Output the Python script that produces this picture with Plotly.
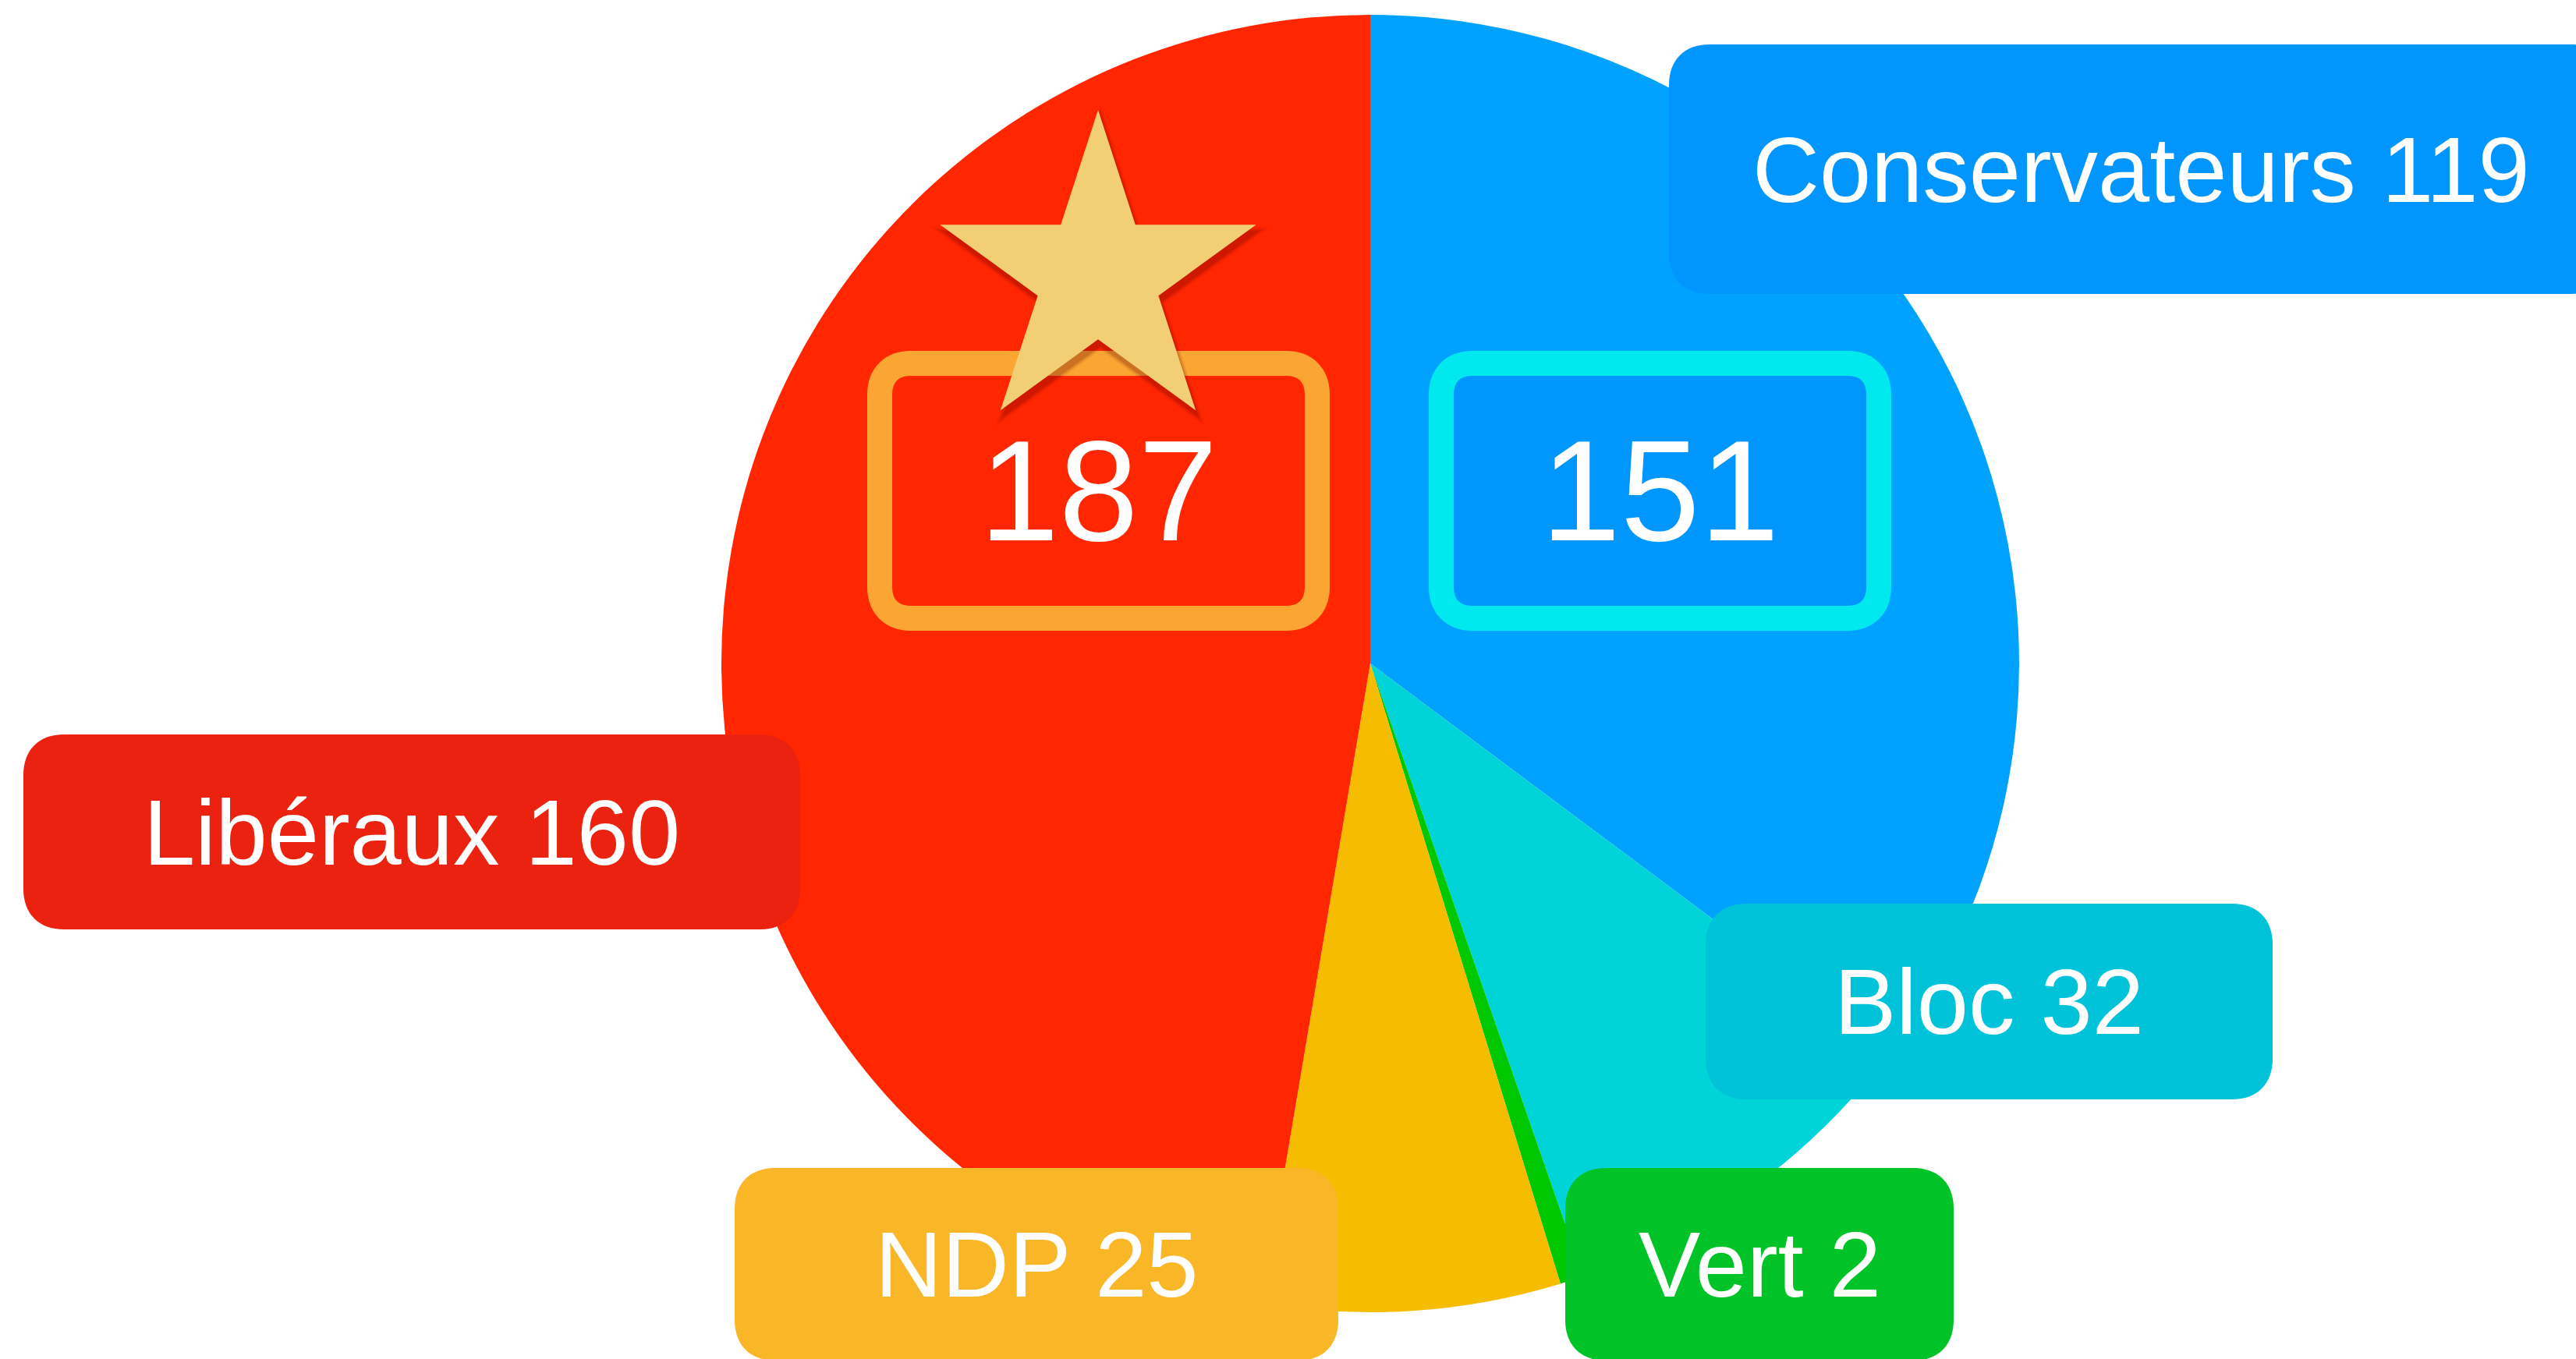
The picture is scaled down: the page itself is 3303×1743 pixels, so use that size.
import math
import plotly.graph_objects as go

# ---- data ----
parties = ["Conservateurs", "Bloc", "Vert", "NDP", "Libéraux"]
seats = [119, 32, 2, 25, 160]
slice_colors = ["#00A2FF", "#00D4D8", "#00C800", "#F6BC00", "#FF2600"]
label_colors = ["#0095FF", "#00C2D8", "#00C328", "#F9B626", "#EC2210"]
highlight_values = [187, 151]
highlight_fill = ["#FF2600", "#0096FF"]
highlight_border = ["#FBA633", "#00E9EF"]

# ---- layout geometry (pixels) ----
W, H = 3303, 1743
CX, CY, R = 1757, 851, 832
label_boxes = {
    "Conservateurs": (2140, 57, 3350, 377),
    "Bloc": (2187, 1159, 2914, 1410),
    "Vert": (2007, 1498, 2505, 1745),
    "NDP": (942, 1498, 1716, 1745),
    "Libéraux": (30, 942, 1026, 1192),
}
highlight_boxes = [(1128, 466, 1689, 793), (1848, 466, 2409, 793)]
star_center = (1408, 354)
star_R = 213


def px(x):
    return x / W


def py(y):
    return 1 - y / H


def rrect(x0, y0, x1, y1, r, c=0.62):
    k = r * (1 - c)
    pts = [
        ("M", [(x0 + r, y0)]),
        ("L", [(x1 - r, y0)]),
        ("C", [(x1 - k, y0), (x1, y0 + k), (x1, y0 + r)]),
        ("L", [(x1, y1 - r)]),
        ("C", [(x1, y1 - k), (x1 - k, y1), (x1 - r, y1)]),
        ("L", [(x0 + r, y1)]),
        ("C", [(x0 + k, y1), (x0, y1 - k), (x0, y1 - r)]),
        ("L", [(x0, y0 + r)]),
        ("C", [(x0, y0 + k), (x0 + k, y0), (x0 + r, y0)]),
    ]
    s = ""
    for cmd, ps in pts:
        s += cmd + " ".join(f"{px(x):.5f},{py(y):.5f}" for x, y in ps)
    return s + "Z"


def star(cx, cy, Ro, ratio=0.382):
    s = ""
    for i in range(10):
        rr = Ro if i % 2 == 0 else Ro * ratio
        a = math.radians(-90 + 36 * i)
        x, y = cx + rr * math.cos(a), cy + rr * math.sin(a)
        s += ("M" if i == 0 else "L") + f"{px(x):.5f},{py(y):.5f}"
    return s + "Z"


fig = go.Figure()
fig.add_trace(go.Pie(
    labels=parties, values=seats, sort=False, direction="clockwise",
    marker=dict(colors=slice_colors, line=dict(width=0)),
    textinfo="none", hoverinfo="none", showlegend=False,
    domain=dict(x=[px(CX - R), px(CX + R)], y=[py(CY + R), py(CY - R)]),
))

shapes = []
annotations = []
font = "Liberation Sans, Arial, Helvetica, sans-serif"

# label boxes
for party, val, col in zip(parties, seats, label_colors):
    x0, y0, x1, y1 = label_boxes[party]
    shapes.append(dict(type="path", xref="paper", yref="paper", path=rrect(x0, y0, x1, y1, 52),
                       fillcolor=col, line=dict(width=0)))
    annotations.append(dict(x=px((x0 + x1) / 2), y=py((y0 + y1) / 2), xref="paper", yref="paper",
                            text=f"{party} {val}", showarrow=False, xanchor="center", yanchor="middle",
                            font=dict(family=font, size=119, color="white")))

# highlight boxes
for val, fcol, bcol, (x0, y0, x1, y1) in zip(highlight_values, highlight_fill, highlight_border, highlight_boxes):
    shapes.append(dict(type="path", xref="paper", yref="paper", path=rrect(x0, y0, x1, y1, 40),
                       fillcolor=fcol, line=dict(width=32, color=bcol)))
    annotations.append(dict(x=px((x0 + x1) / 2), y=py((y0 + y1) / 2), xref="paper", yref="paper",
                            text=str(val), showarrow=False, xanchor="center", yanchor="middle",
                            font=dict(family=font, size=183, color="white")))

# star with soft shadow
sx, sy = star_center
for dr, op in [(16, 0.04), (12, 0.05), (8, 0.07), (4, 0.09), (1, 0.10)]:
    shapes.append(dict(type="path", xref="paper", yref="paper", path=star(sx + 3, sy + 8, star_R + dr),
                       fillcolor=f"rgba(100,0,0,{op})", line=dict(width=0)))
shapes.append(dict(type="path", xref="paper", yref="paper", path=star(sx, sy, star_R),
                   fillcolor="#F2CF75", line=dict(width=0)))

fig.update_layout(
    width=W, height=H, margin=dict(l=0, r=0, t=0, b=0),
    paper_bgcolor="white", plot_bgcolor="white",
    shapes=shapes, annotations=annotations,
)

fig.write_html("out.html", config={"displayModeBar": False},
               post_script="document.body.style.margin='0';document.body.style.overflow='hidden';")
